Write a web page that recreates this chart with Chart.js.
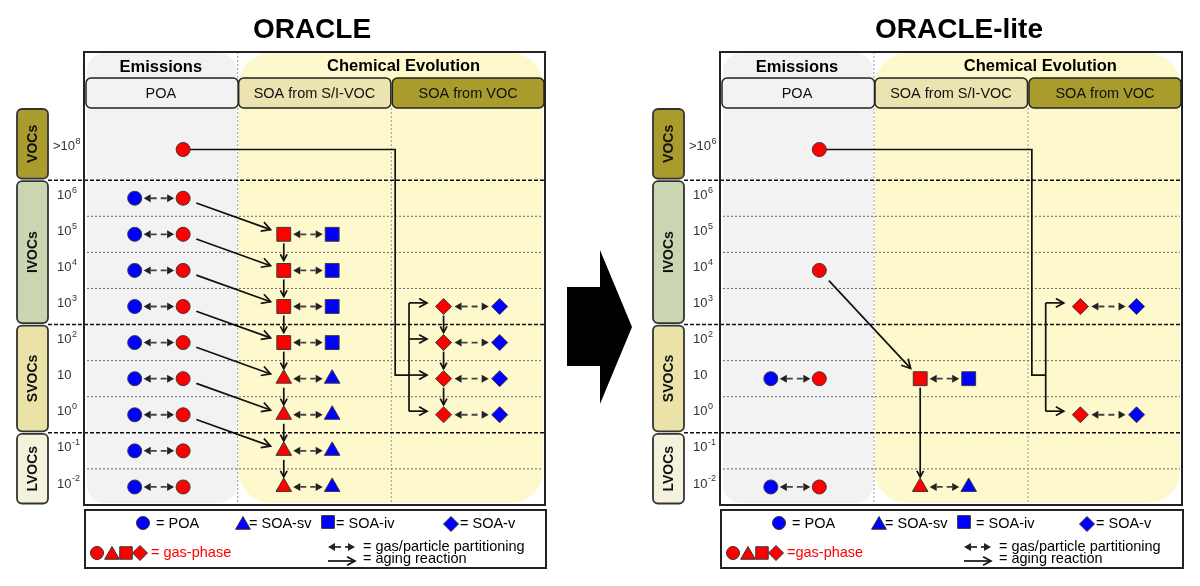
<!DOCTYPE html>
<html>
<head>
<meta charset="utf-8">
<title>ORACLE / ORACLE-lite</title>
<script src="https://cdn.jsdelivr.net/npm/chart.js@4.4.1/dist/chart.umd.min.js"></script>
<style>
  body{margin:0;background:#fff}
  #wrap{position:relative;width:1200px;height:586px;overflow:hidden}
  canvas{position:absolute;top:0}
</style>
</head>
<body>
<div id="wrap">
  <canvas id="oracle" width="636" height="586" style="left:0"></canvas>
  <canvas id="lite" width="564" height="586" style="left:636px"></canvas>
</div>
<script>
// volatility bins (log10 C*), top to bottom; VOCs are lumped in one bin
const binValues = [7.35, 6, 5, 4, 3, 2, 1, 0, -1, -2];
const tickLabelsOracle = ['>10^8','10^6','10^5','10^4','10^3','10^2','10','10^0','10^-1','10^-2'];
const tickLabelsLite   = ['>10^6','10^6','10^5','10^4','10^3','10^2','10','10^0','10^-1','10^-2'];
const classNames  = ['VOCs','IVOCs','SVOCs','LVOCs'];
const classUpper  = [8.5, 6.5, 2.5, -0.5];
const classLower  = [6.5, 2.5, -0.5, -2.5];
const columnNames = ['POA','SOA from S/I-VOC','SOA from VOC'];
const groupNames  = ['Emissions','Chemical Evolution'];

// ORACLE
const poaRowsO    = [6, 5, 4, 3, 2, 1, 0, -1, -2];
const gasOnlyO    = [7.35];
const ivRowsO     = [5, 4, 3, 2];
const svRowsO     = [1, 0, -1, -2];
const vRowsO      = [3, 2, 1, 0];
const agingFromO  = [6, 5, 4, 3, 2, 1, 0];
const agingToO    = [5, 4, 3, 2, 1, 0, -1];
const sivChainO   = [5, 4, 3, 2, 1, 0, -1, -2];
const vChainO     = [3, 2, 1, 0];
const vocTargetsO = [3, 2, 1, 0];

// ORACLE-lite
const poaRowsL    = [1, -2];
const gasOnlyL    = [7.35, 4];
const ivRowsL     = [1];
const svRowsL     = [-2];
const vRowsL      = [3, 0];
const agingFromL  = [4];
const agingToL    = [1];
const sivChainL   = [1, -2];
const vChainL     = [];
const vocTargetsL = [3, 0];

const vocRow = 7.35, vocJoin = 1.1;
const legendTextO = ['= POA','= SOA-sv','= SOA-iv','= SOA-v','= gas-phase','= gas/particle partitioning','= aging reaction'];
const legendTextL = ['= POA','= SOA-sv',' = SOA-iv','= SOA-v','=gas-phase','= gas/particle partitioning','= aging reaction'];

// x lanes inside the three columns (column width = 1)
const lane = {poaP:0.33, poaG:0.645, sivG:1.30, sivP:1.615, vG:2.34, vP:2.705, trunk:2.025, bracket:2.115, vEnd:2.232};
const BLUE = '#0000ff', RED = '#ff0000', FONT = 'Arial, "Liberation Sans", sans-serif';
const classColors = ['#a99b2c','#c9d6b1','#ebe2a8','#f4f2dd'];
const columnColors = ['#f2f2f2','#ebe3b0','#a99b2c'];

function rrect(ctx, x, y, w, h, r, fill, stroke, lw){
  ctx.beginPath(); ctx.roundRect(x, y, w, h, r);
  if (fill){ ctx.fillStyle = fill; ctx.fill(); }
  if (stroke){ ctx.strokeStyle = stroke; ctx.lineWidth = lw || 1; ctx.stroke(); }
}
function path(ctx, pts, color, lw, dash){
  ctx.beginPath(); ctx.setLineDash(dash || []);
  ctx.moveTo(pts[0][0], pts[0][1]);
  for (let i = 1; i < pts.length; i++) ctx.lineTo(pts[i][0], pts[i][1]);
  ctx.strokeStyle = color; ctx.lineWidth = lw; ctx.stroke(); ctx.setLineDash([]);
}
function openArrow(ctx, x1, y1, x2, y2, head){
  head = head || 7;
  const a = Math.atan2(y2 - y1, x2 - x1), s = 0.5;
  path(ctx, [[x1, y1], [x2, y2]], '#111', 1.7);
  path(ctx, [[x2 - head*Math.cos(a - s), y2 - head*Math.sin(a - s)], [x2, y2],
             [x2 - head*Math.cos(a + s), y2 - head*Math.sin(a + s)]], '#111', 1.7);
}
function aging(ctx, x1, y1, x2, y2, g1, g2){
  const L = Math.hypot(x2 - x1, y2 - y1), ux = (x2 - x1)/L, uy = (y2 - y1)/L;
  openArrow(ctx, x1 + ux*g1, y1 + uy*g1, x2 - ux*g2, y2 - uy*g2, 10);
}
function partArrow(ctx, xa, xb, y){
  const h = 7, w = 4;
  ctx.fillStyle = '#222';
  ctx.beginPath(); ctx.moveTo(xa, y); ctx.lineTo(xa + h, y - w); ctx.lineTo(xa + h, y + w); ctx.closePath(); ctx.fill();
  ctx.beginPath(); ctx.moveTo(xb, y); ctx.lineTo(xb - h, y - w); ctx.lineTo(xb - h, y + w); ctx.closePath(); ctx.fill();
  path(ctx, [[xa + h, y], [xb - h, y]], '#444', 1.8, [6, 4]);
}
function shape(ctx, style, x, y, r, fill){
  ctx.beginPath();
  if (style === 'circle') ctx.arc(x, y, r, 0, Math.PI*2);
  else if (style === 'rect'){ const s = r*Math.SQRT1_2; ctx.rect(x - s, y - s, 2*s, 2*s); }
  else if (style === 'triangle'){ const k = r*Math.sin(2*Math.PI/3);
    ctx.moveTo(x, y - r); ctx.lineTo(x + k, y + r/2); ctx.lineTo(x - k, y + r/2); ctx.closePath(); }
  else { ctx.moveTo(x - r, y); ctx.lineTo(x, y - r); ctx.lineTo(x + r, y); ctx.lineTo(x, y + r); ctx.closePath(); }
  ctx.fillStyle = fill; ctx.fill(); ctx.strokeStyle = '#333'; ctx.lineWidth = 1; ctx.stroke();
}
function marker(label, x, rows, style, color, r){
  return {label, data: rows.map(y => ({x, y})), pointStyle: style, pointRadius: r, pointHoverRadius: r,
          backgroundColor: color, borderColor: '#3a3a3a', borderWidth: 1, clip: false};
}

function makePanel(id, title, titleX, ticks, d, legendText, bigArrow){
  const cv = document.getElementById(id), W = cv.width;
  const diagram = {
    id: 'diagram',
    beforeDatasetsDraw(chart){
      const ctx = chart.ctx, X = v => chart.scales.x.getPixelForValue(v), Y = v => chart.scales.y.getPixelForValue(v);
      const top = 52, bot = Y(-2.5), hb = Y(8.5);
      ctx.save();
      ctx.fillStyle = '#000'; ctx.textAlign = 'center'; ctx.textBaseline = 'alphabetic';
      ctx.font = 'bold 28px ' + FONT; ctx.fillText(title, titleX, 38);
      // shaded regions
      rrect(ctx, X(0) + 3, top + 1, X(1) - X(0) - 4, bot - top - 3, 18, '#f2f2f2');
      rrect(ctx, X(1) + 1, top + 1, X(3) - X(1) - 3, bot - top - 3, 32, '#fef9cc');
      ctx.fillStyle = '#000'; ctx.font = 'bold 16.5px ' + FONT;
      ctx.fillText(groupNames[0], X(0.5), 72);
      ctx.fillText(groupNames[1], X(2.08), 71);
      // column separators
      path(ctx, [[X(1), top], [X(1), bot]], '#9a9a9a', 1, [2, 2]);
      path(ctx, [[X(2), hb], [X(2), bot]], '#9a9a9a', 1, [2, 2]);
      // column header boxes
      columnNames.forEach((c, i) => {
        rrect(ctx, X(i) + (i ? 1 : 2), 78, X(i + 1) - X(i) - (i === 2 ? 2 : 1.5), hb - 78, 5, columnColors[i], '#222', 1.5);
        ctx.fillStyle = '#111'; ctx.font = '14.5px ' + FONT; ctx.fillText(c, X(i + 0.5), 98);
      });
      // bin lines
      for (let b = -1.5; b < 6.5; b++){
        if (b === 2.5 || b === -0.5) continue;
        path(ctx, [[X(0) + 3, Y(b)], [X(3) - 2, Y(b)]], '#6a6a6a', 1, [2, 2]);
      }
      [6.5, 2.5, -0.5].forEach(b => path(ctx, [[48, Y(b)], [X(3), Y(b)]], '#111', 1.5, [4, 2]));
      // tick labels
      ctx.fillStyle = '#333'; ctx.textAlign = 'left'; ctx.textBaseline = 'middle';
      ticks.forEach((t, i) => {
        const [base, exp] = t.split('^'), y = Y(binValues[i]) - 3;
        let x = base[0] === '>' ? 53 : 57;
        ctx.font = '13px ' + FONT; ctx.fillText(base, x, y);
        if (exp){ x += ctx.measureText(base).width + 0.5; ctx.font = '9px ' + FONT; ctx.fillText(exp, x, y - 5); }
      });
      // volatility class boxes
      classNames.forEach((c, i) => {
        const y1 = Y(classUpper[i]) + 1, y2 = Y(classLower[i]) - 1.5;
        rrect(ctx, 17, y1, 31, y2 - y1, 5, classColors[i], '#333', 1.8);
        ctx.save(); ctx.translate(32.5, (y1 + y2)/2); ctx.rotate(-Math.PI/2);
        ctx.fillStyle = '#111'; ctx.font = 'bold 14px ' + FONT; ctx.textAlign = 'center'; ctx.textBaseline = 'middle';
        ctx.fillText(c, 0, 1); ctx.restore();
      });
      ctx.restore();
    },
    afterDatasetsDraw(chart){
      const ctx = chart.ctx, X = v => chart.scales.x.getPixelForValue(v), Y = v => chart.scales.y.getPixelForValue(v);
      ctx.save();
      // gas/particle partitioning
      d.poa.forEach(r => partArrow(ctx, X(lane.poaP) + 9, X(lane.poaG) - 9, Y(r)));
      d.iv.concat(d.sv).forEach(r => partArrow(ctx, X(lane.sivG) + 9.5, X(lane.sivP) - 9.5, Y(r)));
      d.v.forEach(r => partArrow(ctx, X(lane.vG) + 11, X(lane.vP) - 11, Y(r)));
      // aging of primary vapours
      d.agingFrom.forEach((f, i) => aging(ctx, X(lane.poaG), Y(f), X(lane.sivG), Y(d.agingTo[i]), 14, 14));
      [[lane.sivG, d.sivChain], [lane.vG, d.vChain]].forEach(([x, rows]) =>
        rows.slice(1).forEach((r, i) => openArrow(ctx, X(x), Y(rows[i]) + 9, X(x), Y(r) - 10, 7)));
      // VOC oxidation
      path(ctx, [[X(lane.poaG) + 7, Y(vocRow)], [X(lane.trunk), Y(vocRow)], [X(lane.trunk), Y(vocJoin)], [X(lane.bracket), Y(vocJoin)]], '#111', 1.7);
      const tMax = Math.max(...d.vocTargets) + 0.1, tMin = Math.min(...d.vocTargets) + 0.1;
      path(ctx, [[X(lane.bracket), Y(tMax)], [X(lane.bracket), Y(tMin)]], '#111', 1.7);
      d.vocTargets.forEach(t => openArrow(ctx, X(lane.bracket), Y(t + 0.1), X(lane.vEnd), Y(t + 0.1), 9));
      ctx.restore();
    },
    afterDraw(chart){
      const ctx = chart.ctx, X = v => chart.scales.x.getPixelForValue(v), Y = v => chart.scales.y.getPixelForValue(v);
      ctx.save();
      ctx.strokeStyle = '#222'; ctx.lineWidth = 2;
      ctx.strokeRect(X(0), 52, X(3) - X(0), Y(-2.5) - 52);
      ctx.strokeRect(X(0) + 1, 510, X(3) - X(0), 58);
      // legend
      const shapes = ['circle', 'triangle', 'rect', 'rectRot'];
      const sx = [143, 243, 328, 451], sr = [6.5, 8.5, 9, 7.5], sy = [523, 525, 522, 524], tx = [156, 249, 336, 460];
      ctx.font = '14.5px ' + FONT; ctx.textAlign = 'left'; ctx.textBaseline = 'alphabetic'; ctx.fillStyle = '#000';
      shapes.forEach((s, i) => { shape(ctx, s, sx[i], sy[i], sr[i], BLUE); ctx.fillStyle = '#000'; ctx.fillText(legendText[i], tx[i], 528); });
      [97, 112, 126, 140].forEach((x, i) => shape(ctx, shapes[i], x, i === 1 ? 555 : 553, [6.5, 8.5, 8.8, 7.5][i], RED));
      ctx.fillStyle = RED; ctx.fillText(legendText[4], 151, 557);
      partArrow(ctx, 328, 355, 547);
      openArrow(ctx, 328, 561, 355, 561, 9);
      ctx.fillStyle = '#000';
      ctx.fillText(legendText[5], 363, 551);
      ctx.fillText(legendText[6], 363, 563);
      if (bigArrow){
        ctx.fillStyle = '#000'; ctx.beginPath();
        ctx.moveTo(567, 287); ctx.lineTo(600, 287); ctx.lineTo(600, 250); ctx.lineTo(632, 327);
        ctx.lineTo(600, 404); ctx.lineTo(600, 366); ctx.lineTo(567, 366); ctx.closePath(); ctx.fill();
      }
      ctx.restore();
    }
  };
  return new Chart(cv, {
    type: 'scatter',
    data: {datasets: [
      marker('POA', lane.poaP, d.poa, 'circle', BLUE, 7),
      marker('POA gas', lane.poaG, d.poa.concat(d.gasOnly), 'circle', RED, 7),
      marker('SOA-iv gas', lane.sivG, d.iv, 'rect', RED, 9.8),
      marker('SOA-iv', lane.sivP, d.iv, 'rect', BLUE, 9.8),
      marker('SOA-sv gas', lane.sivG, d.sv, 'triangle', RED, 9),
      marker('SOA-sv', lane.sivP, d.sv, 'triangle', BLUE, 9),
      marker('SOA-v gas', lane.vG, d.v, 'rectRot', RED, 8),
      marker('SOA-v', lane.vP, d.v, 'rectRot', BLUE, 8)
    ]},
    options: {
      responsive: false, animation: false, events: [],
      layout: {padding: {left: 84, right: W - (W > 600 ? 545 : 546), top: 108, bottom: 81}},
      scales: {
        x: {type: 'linear', min: 0, max: 3, display: false},
        y: {type: 'linear', min: -2.5, max: 8.5, display: false}
      },
      plugins: {legend: {display: false}, tooltip: {enabled: false}}
    },
    plugins: [diagram]
  });
}

makePanel('oracle', 'ORACLE', 312, tickLabelsOracle, {
  poa: poaRowsO, gasOnly: gasOnlyO, iv: ivRowsO, sv: svRowsO, v: vRowsO,
  agingFrom: agingFromO, agingTo: agingToO, sivChain: sivChainO, vChain: vChainO, vocTargets: vocTargetsO
}, legendTextO, true);

makePanel('lite', 'ORACLE-lite', 323, tickLabelsLite, {
  poa: poaRowsL, gasOnly: gasOnlyL, iv: ivRowsL, sv: svRowsL, v: vRowsL,
  agingFrom: agingFromL, agingTo: agingToL, sivChain: sivChainL, vChain: vChainL, vocTargets: vocTargetsL
}, legendTextL, false);
</script>
</body>
</html>
